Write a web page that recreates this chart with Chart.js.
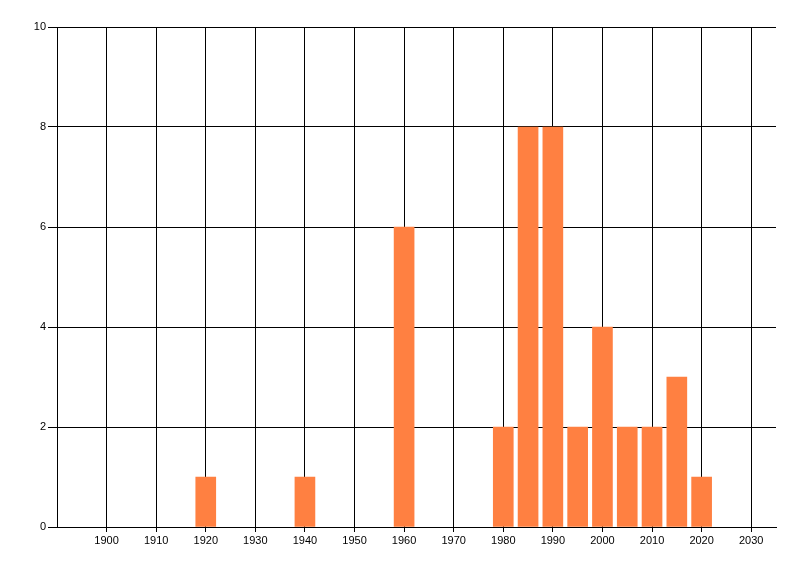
<!DOCTYPE html>
<html>
<head>
<meta charset="utf-8">
<script src="https://cdn.jsdelivr.net/npm/chart.js@4/dist/chart.umd.min.js"></script>
<style>
    html, body { margin: 0; padding: 0; background: #fff; }
    #wrap { width: 800px; height: 576px; }
</style>
</head>
<body>
<div id="wrap"><canvas id="decadeChart" width="800" height="576"></canvas></div>
<script>
// Chart data
const years = [1920, 1940, 1960, 1980, 1985, 1990, 1995, 2000, 2005, 2010, 2015, 2020];
const counts = [1, 1, 6, 2, 8, 8, 2, 4, 2, 2, 3, 1];
const xTickYears = [1900, 1910, 1920, 1930, 1940, 1950, 1960, 1970, 1980, 1990, 2000, 2010, 2020, 2030];
const yTickValues = [0, 2, 4, 6, 8, 10];

(function() {
    'use strict';

    const ctx = document.getElementById('decadeChart');
    const points = years.map(function(y, i) {
        return { x: y, y: counts[i] };
    });

    Chart.defaults.font.family = '"Liberation Sans", Arial, sans-serif';
    Chart.defaults.font.size = 11;
    Chart.defaults.color = '#000';

    new Chart(ctx, {
        type: 'bar',
        data: {
            datasets: [{
                data: points,
                backgroundColor: 'rgb(255,128,65)',
                borderWidth: 0,
                barThickness: 20
            }]
        },
        options: {
            responsive: false,
            animation: false,
            events: [],
            layout: {
                padding: { top: 27, right: 24, left: 0, bottom: 0 }
            },
            plugins: {
                legend: { display: false },
                tooltip: { enabled: false }
            },
            scales: {
                x: {
                    type: 'linear',
                    min: 1890,
                    max: 2035,
                    offset: false,
                    afterBuildTicks: function(scale) {
                        scale.ticks = xTickYears.map(function(v) { return { value: v }; });
                    },
                    afterFit: function(scale) { scale.height = 49; },
                    ticks: {
                        padding: 2,
                        maxRotation: 0,
                        autoSkip: false,
                        callback: function(value) { return String(value); }
                    },
                    grid: {
                        offset: false,
                        color: '#000',
                        lineWidth: 1,
                        tickLength: 5,
                        tickColor: '#000'
                    },
                    border: { display: true, color: '#000' }
                },
                y: {
                    min: 0,
                    max: 10,
                    afterBuildTicks: function(scale) {
                        scale.ticks = yTickValues.map(function(v) { return { value: v }; });
                    },
                    afterFit: function(scale) { scale.width = 57; },
                    ticks: {
                        padding: 2
                    },
                    grid: {
                        color: '#000',
                        lineWidth: 1,
                        tickLength: 9,
                        tickColor: '#000'
                    },
                    border: { display: true, color: '#000' }
                }
            }
        }
    });
})();
</script>
</body>
</html>
